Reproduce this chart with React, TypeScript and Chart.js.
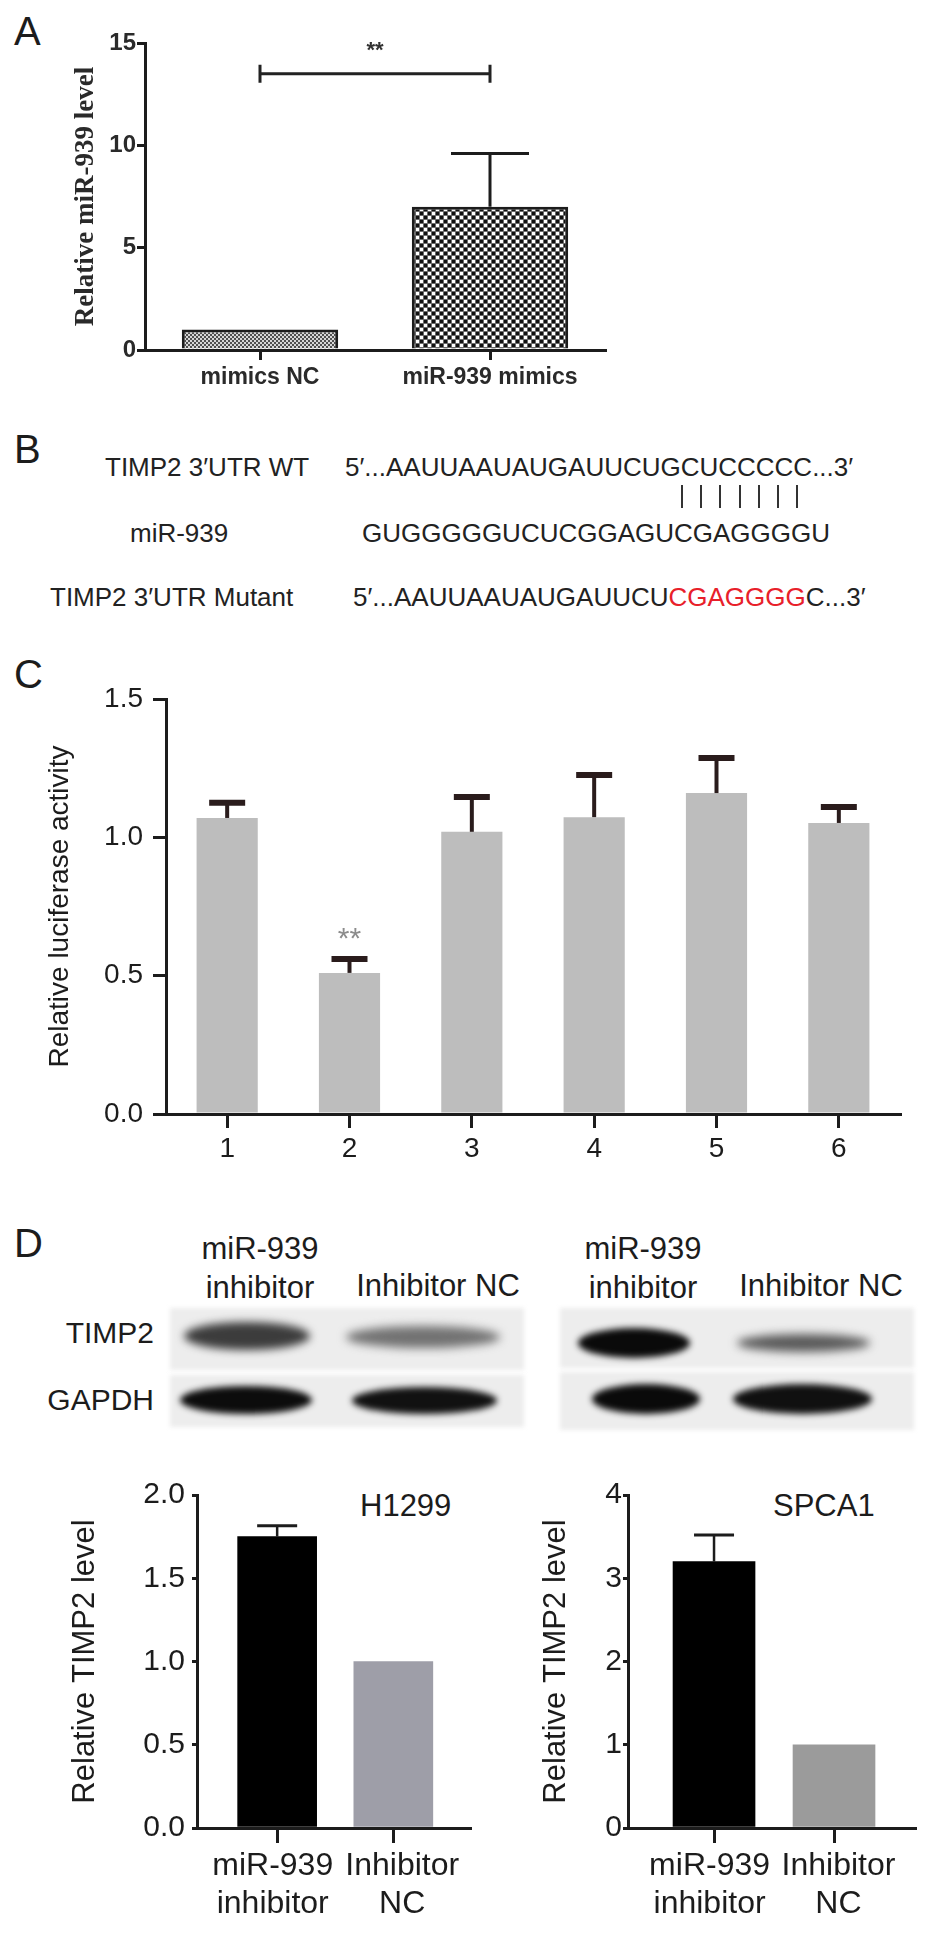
import React, { useEffect, useRef } from 'react';
import { Chart, registerables } from 'chart.js';

Chart.register(...registerables);

const SANS = "'Liberation Sans', Arial, Helvetica, sans-serif";
const SERIF = "'Liberation Serif', 'Times New Roman', serif";
const INK = '#1c1c1c';

// ---------- Panel A data ----------
const aCategories = ['mimics NC', 'miR-939 mimics'];
const aValues = [1.0, 7.0];
const aErrorTops = [1.0, 9.6];
const aYMax = 15;
const aYStep = 5;
const aBracketLevel = 13.5;
const aStarLevel = 14.6;
const aSignificance = '**';
const aYTitle = 'Relative miR-939 level';

// ---------- Panel B text ----------
const wtLabel = 'TIMP2 3′UTR WT';
const wtSequence = '5′...AAUUAAUAUGAUUCUGCUCCCCC...3′';
const mirLabel = 'miR-939';
const mirSequence = 'GUGGGGGUCUCGGAGUCGAGGGGU';
const mutLabel = 'TIMP2 3′UTR Mutant';
const mutSequence = ['5′...AAUUAAUAUGAUUCU', 'CGAGGGG', 'C...3′'];
const pairCount = 7;

// ---------- Panel C data ----------
const cCategories = ['1', '2', '3', '4', '5', '6'];
const cValues = [1.07, 0.51, 1.02, 1.073, 1.16, 1.052];
const cErrorTops = [1.125, 0.56, 1.146, 1.225, 1.287, 1.11];
const cYMax = 1.5;
const cYStep = 0.5;
const cStarIndex = 1;
const cStarLevel = 0.63;
const cSignificance = '**';
const cYTitle = 'Relative luciferase activity';

// ---------- Panel D data ----------
const dCategories = [['miR-939', 'inhibitor'], ['Inhibitor', 'NC']];
const dPositions = [1, 2];
const dYTitle = 'Relative TIMP2 level';
const h1299Values = [1.75, 1.0];
const h1299ErrorTops = [1.815, 1.0];
const h1299YMax = 2.0;
const h1299YStep = 0.5;
const spca1Values = [3.2, 1.0];
const spca1ErrorTops = [3.52, 1.0];
const spca1YMax = 4;
const spca1YStep = 1;
const blotHeaders = [['miR-939', 'inhibitor'], ['Inhibitor NC']];
const blotRows = ['TIMP2', 'GAPDH'];
const cellLines = ['H1299', 'SPCA1'];

function makeErrorPlugin(tops: number[], color: string, lineWidth: number, capWidth: number, capThickness: number) {
  return {
    id: 'errBars',
    afterDatasetsDraw(chart: any) {
      const ctx = chart.ctx;
      const meta = chart.getDatasetMeta(0);
      const y = chart.scales.y;
      const vals = chart.data.datasets[0].data;
      ctx.save();
      ctx.strokeStyle = color;
      ctx.lineCap = 'butt';
      meta.data.forEach((bar: any, i: number) => {
        const raw = vals[i];
        const v = typeof raw === 'number' ? raw : raw.y;
        const top = tops[i];
        if (top == null || top <= v) return;
        const yTop = y.getPixelForValue(top);
        const yBase = y.getPixelForValue(v);
        ctx.lineWidth = lineWidth;
        ctx.beginPath();
        ctx.moveTo(bar.x, yBase);
        ctx.lineTo(bar.x, yTop);
        ctx.stroke();
        ctx.lineWidth = capThickness;
        ctx.beginPath();
        ctx.moveTo(bar.x - capWidth / 2, yTop);
        ctx.lineTo(bar.x + capWidth / 2, yTop);
        ctx.stroke();
      });
      ctx.restore();
    },
  };
}

function makePattern(kind: 'fine' | 'coarse') {
  const p = document.createElement('canvas');
  const g = p.getContext('2d')!;
  if (kind === 'fine') {
    p.width = 4; p.height = 4;
    g.fillStyle = '#d6d6d6'; g.fillRect(0, 0, 4, 4);
    g.fillStyle = '#505050'; g.fillRect(0, 0, 2, 2); g.fillRect(2, 2, 2, 2);
  } else {
    p.width = 8; p.height = 8;
    g.fillStyle = '#6a6a6a'; g.fillRect(0, 0, 8, 8);
    g.fillStyle = '#111111'; g.fillRect(0, 0, 3, 3); g.fillRect(4, 4, 3, 3);
    g.fillStyle = '#ffffff'; g.fillRect(4, 0, 3, 3); g.fillRect(0, 4, 3, 3);
  }
  return g.createPattern(p, 'repeat') as CanvasPattern;
}

function axisStyle(tickLength: number, width: number) {
  return {
    grid: { display: true, drawOnChartArea: false, drawTicks: true, tickLength, color: INK, lineWidth: width, offset: false },
    border: { display: true, color: INK, width },
  };
}

export default function App() {
  const aRef = useRef<HTMLCanvasElement>(null);
  const cRef = useRef<HTMLCanvasElement>(null);
  const d1Ref = useRef<HTMLCanvasElement>(null);
  const d2Ref = useRef<HTMLCanvasElement>(null);

  useEffect(() => {
    const charts: Chart[] = [];

    // ---------- Panel A ----------
    const bracketPlugin = {
      id: 'bracket',
      afterDatasetsDraw(chart: any) {
        const { ctx, scales: { x, y } } = chart;
        const x1 = x.getPixelForValue(0);
        const x2 = x.getPixelForValue(1);
        const yy = y.getPixelForValue(aBracketLevel);
        ctx.save();
        ctx.strokeStyle = '#222';
        ctx.lineWidth = 3;
        ctx.beginPath();
        ctx.moveTo(x1, yy); ctx.lineTo(x2, yy);
        ctx.moveTo(x1, yy - 9); ctx.lineTo(x1, yy + 9);
        ctx.moveTo(x2, yy - 9); ctx.lineTo(x2, yy + 9);
        ctx.stroke();
        ctx.font = `bold 22px ${SANS}`;
        ctx.textAlign = 'center';
        ctx.textBaseline = 'middle';
        ctx.fillStyle = '#333';
        ctx.fillText(aSignificance, (x1 + x2) / 2, y.getPixelForValue(aStarLevel));
        ctx.restore();
      },
    };
    charts.push(new Chart(aRef.current!, {
      type: 'bar',
      data: {
        labels: aCategories,
        datasets: [{
          data: aValues,
          backgroundColor: [makePattern('fine'), makePattern('coarse')],
          borderColor: INK,
          borderWidth: 3,
          categoryPercentage: 1,
          barPercentage: 0.68,
        }],
      },
      options: {
        responsive: false,
        animation: false,
        events: [],
        layout: { padding: { top: 43, right: 35, left: 0, bottom: 0 } },
        plugins: { legend: { display: false }, tooltip: { enabled: false } },
        scales: {
          x: {
            z: 1,
            ...axisStyle(10, 3),
            ticks: { font: { family: SANS, size: 23, weight: 'bold' }, color: '#2a2a2a', padding: 4, maxRotation: 0, autoSkip: false },
            afterFit: (s: any) => { s.height = 50; },
          },
          y: {
            z: 1,
            min: 0,
            max: aYMax,
            ...axisStyle(8, 3),
            ticks: { stepSize: aYStep, font: { family: SANS, size: 24, weight: 'bold' }, color: '#2a2a2a', padding: 1 },
            title: { display: true, text: aYTitle, font: { family: SERIF, size: 27, weight: 'bold' }, color: '#2a2a2a', padding: { top: 70, bottom: 0 } },
            afterFit: (s: any) => { s.width = 145; },
          },
        },
      } as any,
      plugins: [makeErrorPlugin(aErrorTops, INK, 3, 78, 3) as any, bracketPlugin as any],
    }));

    // ---------- Panel C ----------
    const starPlugin = {
      id: 'starC',
      afterDatasetsDraw(chart: any) {
        const { ctx, scales: { x, y } } = chart;
        ctx.save();
        ctx.font = `30px ${SANS}`;
        ctx.textAlign = 'center';
        ctx.textBaseline = 'middle';
        ctx.fillStyle = '#8c8c8c';
        ctx.fillText(cSignificance, x.getPixelForValue(cStarIndex), y.getPixelForValue(cStarLevel));
        ctx.restore();
      },
    };
    charts.push(new Chart(cRef.current!, {
      type: 'bar',
      data: {
        labels: cCategories,
        datasets: [{ data: cValues, backgroundColor: '#bdbdbd', borderWidth: 0, categoryPercentage: 1, barPercentage: 0.5 }],
      },
      options: {
        responsive: false,
        animation: false,
        events: [],
        layout: { padding: { top: 99, right: 47, left: 0, bottom: 0 } },
        plugins: { legend: { display: false }, tooltip: { enabled: false } },
        scales: {
          x: {
            z: 1,
            ...axisStyle(14, 3),
            ticks: { font: { family: SANS, size: 28 }, color: INK, padding: 4, maxRotation: 0, autoSkip: false },
            afterFit: (s: any) => { s.height = 86; },
          },
          y: {
            z: 1,
            min: 0,
            max: cYMax,
            ...axisStyle(13, 3),
            ticks: { stepSize: cYStep, font: { family: SANS, size: 28 }, color: INK, padding: 10, callback: (v: any) => Number(v).toFixed(1) },
            title: { display: true, text: cYTitle, font: { family: SANS, size: 28 }, color: INK, padding: { top: 43, bottom: 0 } },
            afterFit: (s: any) => { s.width = 166; },
          },
        },
      } as any,
      plugins: [makeErrorPlugin(cErrorTops, '#2a1c1c', 4, 36, 6) as any, starPlugin as any],
    }));

    // ---------- Panel D ----------
    const makeD = (canvas: HTMLCanvasElement, values: number[], tops: number[], yMax: number, yStep: number, decimals: number,
      xMin: number, xMax: number, barW: number, yWidth: number, padRight: number, titlePad: number, tickPad: number, grey: string,
      leftGap: string, rightGap: string) => {
      return new Chart(canvas, {
        type: 'bar',
        data: {
          datasets: [{
            data: dPositions.map((p, i) => ({ x: p, y: values[i] })),
            backgroundColor: ['#000000', grey],
            borderWidth: 0,
            barThickness: barW,
          }],
        },
        options: {
          responsive: false,
          animation: false,
          events: [],
          layout: { padding: { top: 55, right: padRight, left: 0, bottom: 0 } },
          plugins: { legend: { display: false }, tooltip: { enabled: false } },
          scales: {
            x: {
              type: 'linear',
              z: 1,
              min: xMin,
              max: xMax,
              offset: false,
              ...axisStyle(15, 3),
              afterBuildTicks: (s: any) => { s.ticks = dPositions.map((v) => ({ value: v })); },
              ticks: {
                font: { family: SANS, size: 32 }, color: INK, padding: 4, maxRotation: 0, autoSkip: false,
                callback: (v: any) => {
                  const idx = dPositions.indexOf(Number(v));
                  if (idx < 0) return '';
                  return dCategories[idx].map((line) => (idx === 0 ? line + leftGap : rightGap + line));
                },
              },
              afterFit: (s: any) => { s.height = 118; },
            },
            y: {
              z: 1,
              min: 0,
              max: yMax,
              ...axisStyle(5, 3),
              ticks: { stepSize: yStep, font: { family: SANS, size: 30 }, color: INK, padding: tickPad, callback: (v: any) => Number(v).toFixed(decimals) },
              title: { display: true, text: dYTitle, font: { family: SANS, size: 31 }, color: INK, padding: { top: titlePad, bottom: 0 } },
              afterFit: (s: any) => { s.width = yWidth; },
            },
          },
        } as any,
        plugins: [makeErrorPlugin(tops, INK, 2.5, 40, 3) as any],
      });
    };
    charts.push(makeD(d1Ref.current!, h1299Values, h1299ErrorTops, h1299YMax, h1299YStep, 1, 0.31, 2.66, 79, 197, 10, 67, 7, '#9e9ea8', ' ', '  '));
    charts.push(makeD(d2Ref.current!, spca1Values, spca1ErrorTops, spca1YMax, spca1YStep, 0, 0.283, 2.675, 82, 158, 32, 68, 1, '#9b9b9b', ' ', ' '));

    return () => { charts.forEach((c) => c.destroy()); };
  }, []);

  const text = (key: string, content: React.ReactNode, left: number, cy: number, size: number, extra: React.CSSProperties = {}) => (
    <div key={key} style={{ position: 'absolute', left, top: cy - size / 2, fontSize: size, lineHeight: `${size}px`, whiteSpace: 'pre', ...extra }}>{content}</div>
  );
  const ctext = (key: string, content: React.ReactNode, cx: number, cy: number, size: number) => (
    <div key={key} style={{ position: 'absolute', left: cx - 150, width: 300, textAlign: 'center', top: cy - size / 2, fontSize: size, lineHeight: `${size}px`, whiteSpace: 'nowrap' }}>{content}</div>
  );
  const band = (key: string, x1: number, x2: number, y1: number, y2: number, color: string, blur: number) => (
    <div key={key} style={{ position: 'absolute', left: x1, top: y1, width: x2 - x1, height: y2 - y1, background: color, borderRadius: '50%', filter: `blur(${blur}px)` }} />
  );
  const panelBg = (key: string, x1: number, x2: number, y1: number, y2: number) => (
    <div key={key} style={{ position: 'absolute', left: x1, top: y1, width: x2 - x1, height: y2 - y1, background: '#ededed', filter: 'blur(2px)' }} />
  );

  const pairLines = Array.from({ length: pairCount }, (_, i) => (
    <div key={'pl' + i} style={{ position: 'absolute', left: 681 + i * 19.2, top: 485, width: 2, height: 23, background: '#333' }} />
  ));

  return (
    <div style={{ position: 'absolute', left: 0, top: 0, width: 947, height: 1946, background: '#ffffff', overflow: 'hidden', fontFamily: SANS, color: INK }}>
      {/* panel letters */}
      {text('A', 'A', 14, 31, 40)}
      {text('B', 'B', 14, 449, 40)}
      {text('C', 'C', 14, 674, 40)}
      {text('D', 'D', 14, 1243, 40)}

      {/* Panel B */}
      {text('wtl', wtLabel, 105, 467, 26, { color: '#222' })}
      {text('wts', wtSequence, 345, 467, 26, { color: '#222' })}
      {pairLines}
      {text('mrl', mirLabel, 130, 533, 26, { color: '#222' })}
      {text('mrs', mirSequence, 362, 533, 26, { color: '#222' })}
      {text('mtl', mutLabel, 50, 597, 26, { color: '#222' })}
      {text('mts', (<>{mutSequence[0]}<span style={{ color: '#e8202a' }}>{mutSequence[1]}</span>{mutSequence[2]}</>), 353, 597, 26, { color: '#222' })}

      {/* Panel D blots */}
      {ctext('h1a', blotHeaders[0][0], 260, 1248, 31)}
      {ctext('h1b', blotHeaders[0][1], 260, 1287, 31)}
      {ctext('h1c', blotHeaders[1][0], 438, 1285, 31)}
      {ctext('h2a', blotHeaders[0][0], 643, 1248, 31)}
      {ctext('h2b', blotHeaders[0][1], 643, 1287, 31)}
      {ctext('h2c', blotHeaders[1][0], 821, 1285, 31)}
      <div style={{ position: 'absolute', left: 0, width: 154, textAlign: 'right', top: 1333 - 15, fontSize: 30, lineHeight: '30px' }}>{blotRows[0]}</div>
      <div style={{ position: 'absolute', left: 0, width: 154, textAlign: 'right', top: 1400 - 15, fontSize: 30, lineHeight: '30px' }}>{blotRows[1]}</div>
      {panelBg('bg1', 170, 524, 1308, 1370)}
      {panelBg('bg2', 170, 524, 1375, 1427)}
      {panelBg('bg3', 560, 914, 1308, 1368)}
      {panelBg('bg4', 560, 914, 1372, 1430)}
      {band('b1', 184, 310, 1322, 1350, '#3c3c3c', 4)}
      {band('b2', 346, 500, 1326, 1348, '#727272', 5)}
      {band('b3', 180, 312, 1386, 1414, '#0c0c0c', 3)}
      {band('b4', 352, 497, 1387, 1414, '#111111', 3)}
      {band('b5', 578, 690, 1328, 1358, '#0a0a0a', 3)}
      {band('b6', 737, 870, 1334, 1352, '#5a5a5a', 5)}
      {band('b7', 592, 700, 1384, 1414, '#0a0a0a', 3)}
      {band('b8', 733, 872, 1384, 1414, '#101010', 3)}

      {text('cl1', cellLines[0], 360, 1505, 31)}
      {text('cl2', cellLines[1], 773, 1505, 31)}

      <canvas ref={aRef} width={640} height={400} style={{ position: 'absolute', left: 0, top: 0 }} />
      <canvas ref={cRef} width={947} height={600} style={{ position: 'absolute', left: 0, top: 600 }} />
      <canvas ref={d1Ref} width={480} height={506} style={{ position: 'absolute', left: 0, top: 1440 }} />
      <canvas ref={d2Ref} width={477} height={506} style={{ position: 'absolute', left: 470, top: 1440 }} />
    </div>
  );
}
